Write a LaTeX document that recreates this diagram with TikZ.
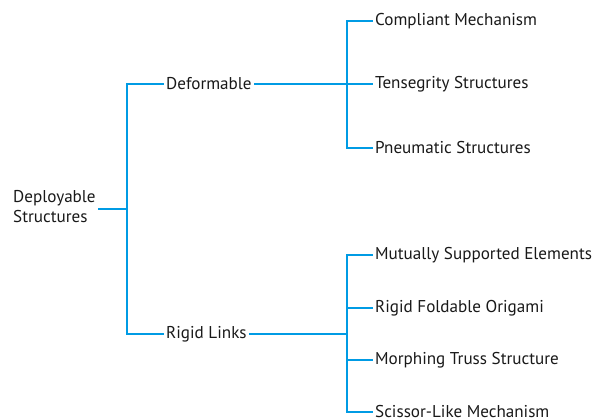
\documentclass[tikz,border=0pt]{standalone}
\usepackage{fontspec}
\setmainfont{PT Sans}
\definecolor{linkblue}{RGB}{0,155,228}
\begin{document}
\begin{tikzpicture}[x=1pt,y=-1pt,
  lbl/.style={font=\fontsize{17.1}{20}\selectfont, inner xsep=2.5pt, inner ysep=0pt, anchor=west, text=black!90},
  link/.style={draw=linkblue, line width=2.6pt, line join=miter}]
\useasboundingbox (0,0) rectangle (595,420);

% tree nodes
\node[lbl, align=left] (root) at (10.5,207) {Deployable\\Structures};
\node[lbl] (def) at (163.5,84) {Deformable};
\node[lbl] (rig) at (163.5,334) {Rigid Links};

\node[lbl] (c1) at (372.5,21) {Compliant Mechanism};
\node[lbl] (c2) at (372.5,84) {Tensegrity Structures};
\node[lbl] (c3) at (372.5,148) {Pneumatic Structures};

\node[lbl] (r1) at (372.5,255) {Mutually Supported Elements};
\node[lbl] (r2) at (372.5,308) {Rigid Foldable Origami};
\node[lbl] (r3) at (372.5,360) {Morphing Truss Structure};
\node[lbl] (r4) at (372.5,412) {Scissor-Like Mechanism};

% branch points
\coordinate (j0) at (127,209);
\coordinate (j1) at (347,84);
\coordinate (j2) at (347,334);

% connectors
\draw[link] (root.east |- j0) -- (j0);
\draw[link] (def.west) -| (j0) |- (rig.west);

\draw[link] (def.east) -- (j1);
\draw[link] (c1.west) -| (j1) |- (c3.west);
\draw[link] (j1) -- (c2.west);

\draw[link] (rig.east) -- (j2);
\draw[link] (r1.west) -| (j2) |- (r4.west);
\draw[link] (r2.west -| j2) -- (r2.west);
\draw[link] (r3.west -| j2) -- (r3.west);
\end{tikzpicture}
\end{document}
